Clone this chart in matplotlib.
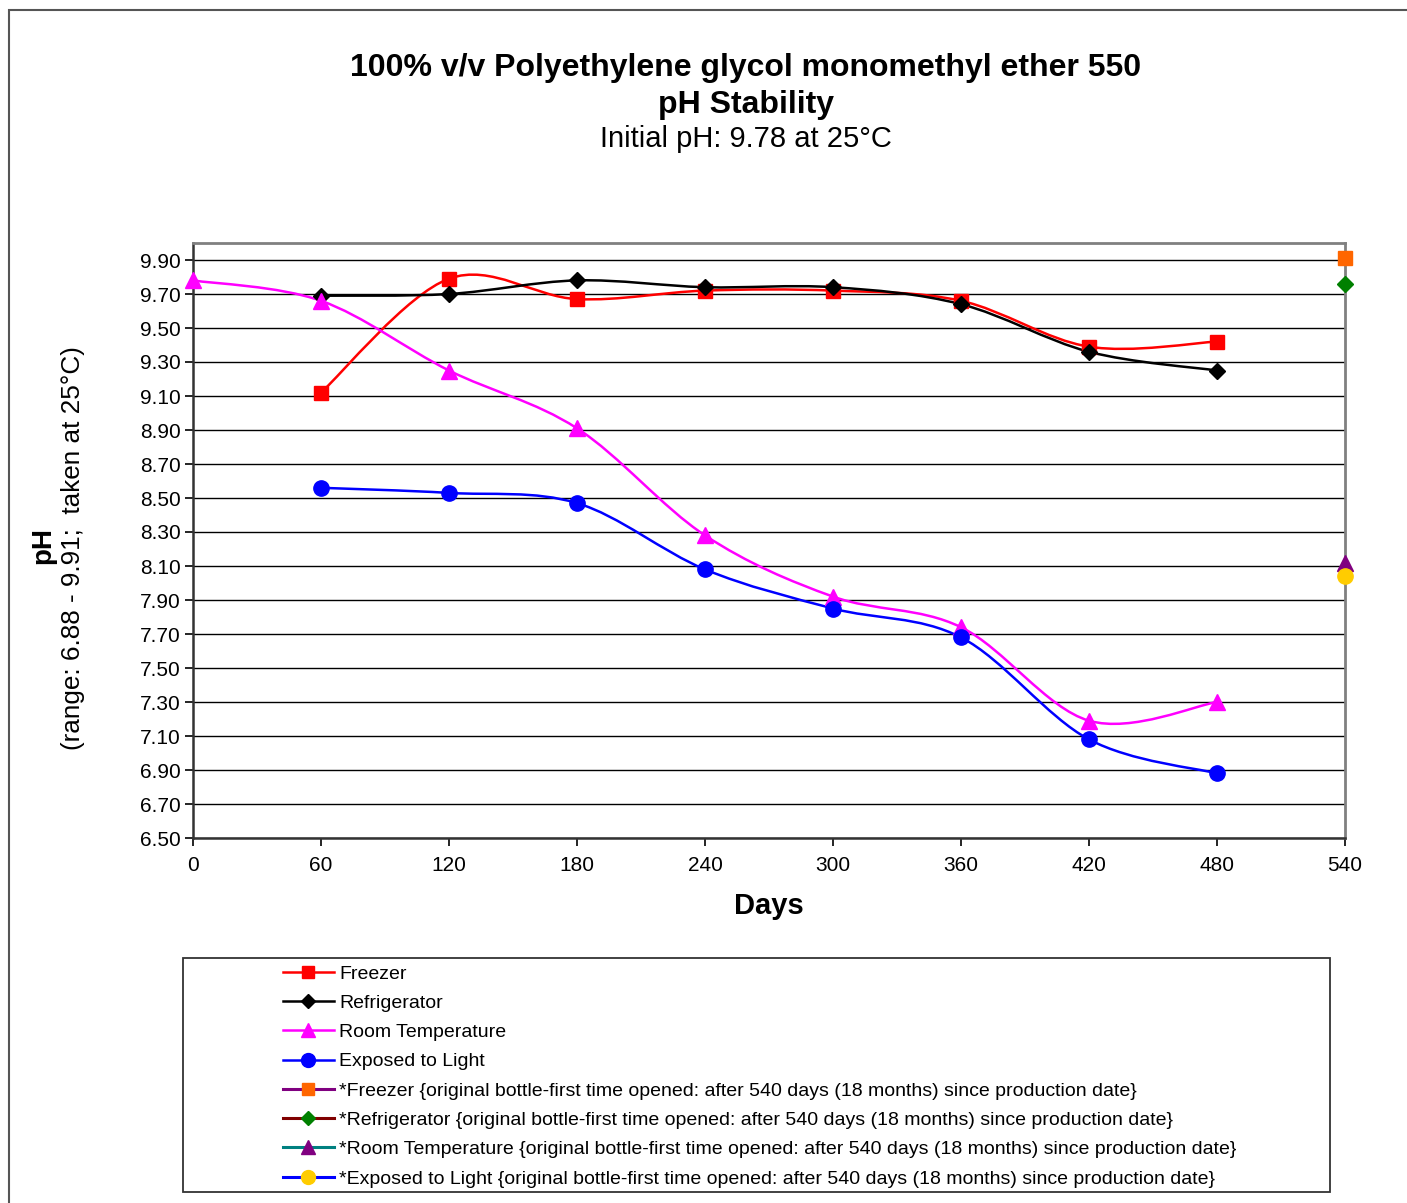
import matplotlib
matplotlib.use("Agg")
import matplotlib.pyplot as plt
from matplotlib.path import Path
from matplotlib.patches import PathPatch, Rectangle
from matplotlib.lines import Line2D
import numpy as np

plt.rcParams['font.family'] = ['Liberation Sans', 'DejaVu Sans']

# ---- data ----
days = [0, 60, 120, 180, 240, 300, 360, 420, 480]
freezer_days = [60, 120, 180, 240, 300, 360, 420, 480]
freezer = [9.12, 9.79, 9.67, 9.72, 9.72, 9.66, 9.39, 9.42]
fridge_days = [60, 120, 180, 240, 300, 360, 420, 480]
fridge = [9.69, 9.70, 9.78, 9.74, 9.74, 9.64, 9.36, 9.25]
room_days = [0, 60, 120, 180, 240, 300, 360, 420, 480]
room = [9.78, 9.66, 9.25, 8.91, 8.28, 7.92, 7.74, 7.19, 7.30]
light_days = [60, 120, 180, 240, 300, 360, 420, 480]
light = [8.56, 8.53, 8.47, 8.08, 7.85, 7.68, 7.08, 6.88]

orig_day = [540]
orig_freezer = [9.91]
orig_fridge = [9.76]
orig_room = [8.12]
orig_light = [8.04]

xticks = [0, 60, 120, 180, 240, 300, 360, 420, 480, 540]
yticks = [6.50, 6.70, 6.90, 7.10, 7.30, 7.50, 7.70, 7.90, 8.10, 8.30, 8.50,
          8.70, 8.90, 9.10, 9.30, 9.50, 9.70, 9.90]

labels = ["Freezer", "Refrigerator", "Room Temperature", "Exposed to Light",
          "*Freezer {original bottle-first time opened: after 540 days (18 months) since production date}",
          "*Refrigerator {original bottle-first time opened: after 540 days (18 months) since production date}",
          "*Room Temperature {original bottle-first time opened: after 540 days (18 months) since production date}",
          "*Exposed to Light {original bottle-first time opened: after 540 days (18 months) since production date}"]

W, H = 1407, 1203
fig = plt.figure(figsize=(W / 100, H / 100), dpi=100)

# outer chart border
fig.patches.append(Rectangle((9 / W, -0.01), 1.02, 1 - 10 / H + 0.01, fill=False,
                             edgecolor='#555555', lw=1.5, transform=fig.transFigure))

ax = fig.add_axes([193 / W, 1 - 838 / H, (1345 - 193) / W, (838 - 243) / H])


def smooth_path(x, y):
    x = np.asarray(x, float)
    y = np.asarray(y, float)
    pts = np.column_stack([x, y])
    n = len(pts)
    verts = [pts[0]]
    codes = [Path.MOVETO]
    for i in range(n - 1):
        p0 = pts[i - 1] if i > 0 else pts[i]
        p1 = pts[i]
        p2 = pts[i + 1]
        p3 = pts[i + 2] if i + 2 < n else pts[i + 1]
        c1 = p1 + (p2 - p0) / 6.0
        c2 = p2 - (p3 - p1) / 6.0
        verts += [c1, c2, p2]
        codes += [Path.CURVE4] * 3
    return Path(verts, codes)


series = [
    (freezer_days, freezer, 'red', 's', 'red', 10.5),
    (fridge_days, fridge, 'black', 'D', 'black', 8),
    (room_days, room, '#FF00FF', '^', '#FF00FF', 11),
    (light_days, light, '#0000FF', 'o', '#0000FF', 11),
]
for xs, ys, lc, mk, mc, ms in series:
    ax.add_patch(PathPatch(smooth_path(xs, ys), facecolor='none', edgecolor=lc, lw=1.8, zorder=3))
    ax.plot(xs, ys, linestyle='none', marker=mk, color=mc, markersize=ms, zorder=4, clip_on=False)

orig = [
    (orig_freezer, 's', '#FF6600', 10.5),
    (orig_fridge, 'D', '#008000', 8),
    (orig_room, '^', '#800080', 11),
    (orig_light, 'o', '#FFCC00', 11),
]
for ys, mk, mc, ms in orig:
    ax.plot(orig_day, ys, linestyle='none', marker=mk, color=mc, markersize=ms, zorder=5, clip_on=False)

ax.set_xlim(0, 540)
ax.set_ylim(6.5, 10.0)
ax.set_xticks(xticks)
ax.set_xticklabels([str(t) for t in xticks])
ax.set_yticks(yticks)
ax.set_yticklabels([f"{t:.2f}" for t in yticks])
ax.tick_params(axis='both', labelsize=15, direction='out', length=6, width=1.2, color='black')
ax.tick_params(axis='y', pad=3)
ax.tick_params(axis='x', pad=7)
ax.yaxis.grid(True, color='black', lw=1.0, zorder=1)
ax.set_axisbelow(True)
for s in ['top', 'right']:
    ax.spines[s].set_color('#808080')
    ax.spines[s].set_linewidth(2)
ax.spines['left'].set_color('#333333')
ax.spines['left'].set_linewidth(1.8)
ax.spines['bottom'].set_color('#333333')
ax.spines['bottom'].set_linewidth(1.8)

ax.set_xlabel("Days", fontsize=21, fontweight='bold', labelpad=12)

fig.text(43 / W, 1 - 545 / H, "pH", rotation=90, fontsize=20, fontweight='bold', ha='center', va='center')
fig.text(73 / W, 1 - 548 / H, "(range: 6.88 - 9.91;  taken at 25°C)", rotation=90, fontsize=18.8,
         ha='center', va='center')

fig.text(746 / W, 1 - 68 / H, "100% v/v Polyethylene glycol monomethyl ether 550", fontsize=23,
         fontweight='bold', ha='center', va='center')
fig.text(746 / W, 1 - 105 / H, "pH Stability", fontsize=23, fontweight='bold', ha='center', va='center')
fig.text(746 / W, 1 - 139 / H, "Initial pH: 9.78 at 25°C", fontsize=21, ha='center', va='center')

# legend
handles = [
    Line2D([], [], color='red', lw=1.8, marker='s', markersize=9, markerfacecolor='red', markeredgecolor='red'),
    Line2D([], [], color='black', lw=1.8, marker='D', markersize=7, markerfacecolor='black'),
    Line2D([], [], color='#FF00FF', lw=1.8, marker='^', markersize=10, markerfacecolor='#FF00FF', markeredgecolor='#FF00FF'),
    Line2D([], [], color='#0000FF', lw=1.8, marker='o', markersize=10, markerfacecolor='#0000FF', markeredgecolor='#0000FF'),
    Line2D([], [], color='#800080', lw=2.2, marker='s', markersize=9, markerfacecolor='#FF6600', markeredgecolor='#FF6600'),
    Line2D([], [], color='#800000', lw=2.2, marker='D', markersize=7, markerfacecolor='#008000', markeredgecolor='#008000'),
    Line2D([], [], color='#008080', lw=2.2, marker='^', markersize=10, markerfacecolor='#800080', markeredgecolor='#800080'),
    Line2D([], [], color='#0000FF', lw=2.2, marker='o', markersize=10, markerfacecolor='#FFCC00', markeredgecolor='#FFCC00'),
]
fig.patches.append(Rectangle((183 / W, 1 - 1192 / H), (1330 - 183) / W, (1192 - 958) / H, fill=False,
                             edgecolor='#333333', lw=1.3, transform=fig.transFigure))
fig.legend(handles, labels, loc='upper left', bbox_to_anchor=(283 / W, 1 - 965 / H),
           frameon=False, fontsize=14, borderpad=0, borderaxespad=0, handlelength=2.6,
           handletextpad=0.3, labelspacing=0.6)

fig.savefig("out.png", dpi=100)
